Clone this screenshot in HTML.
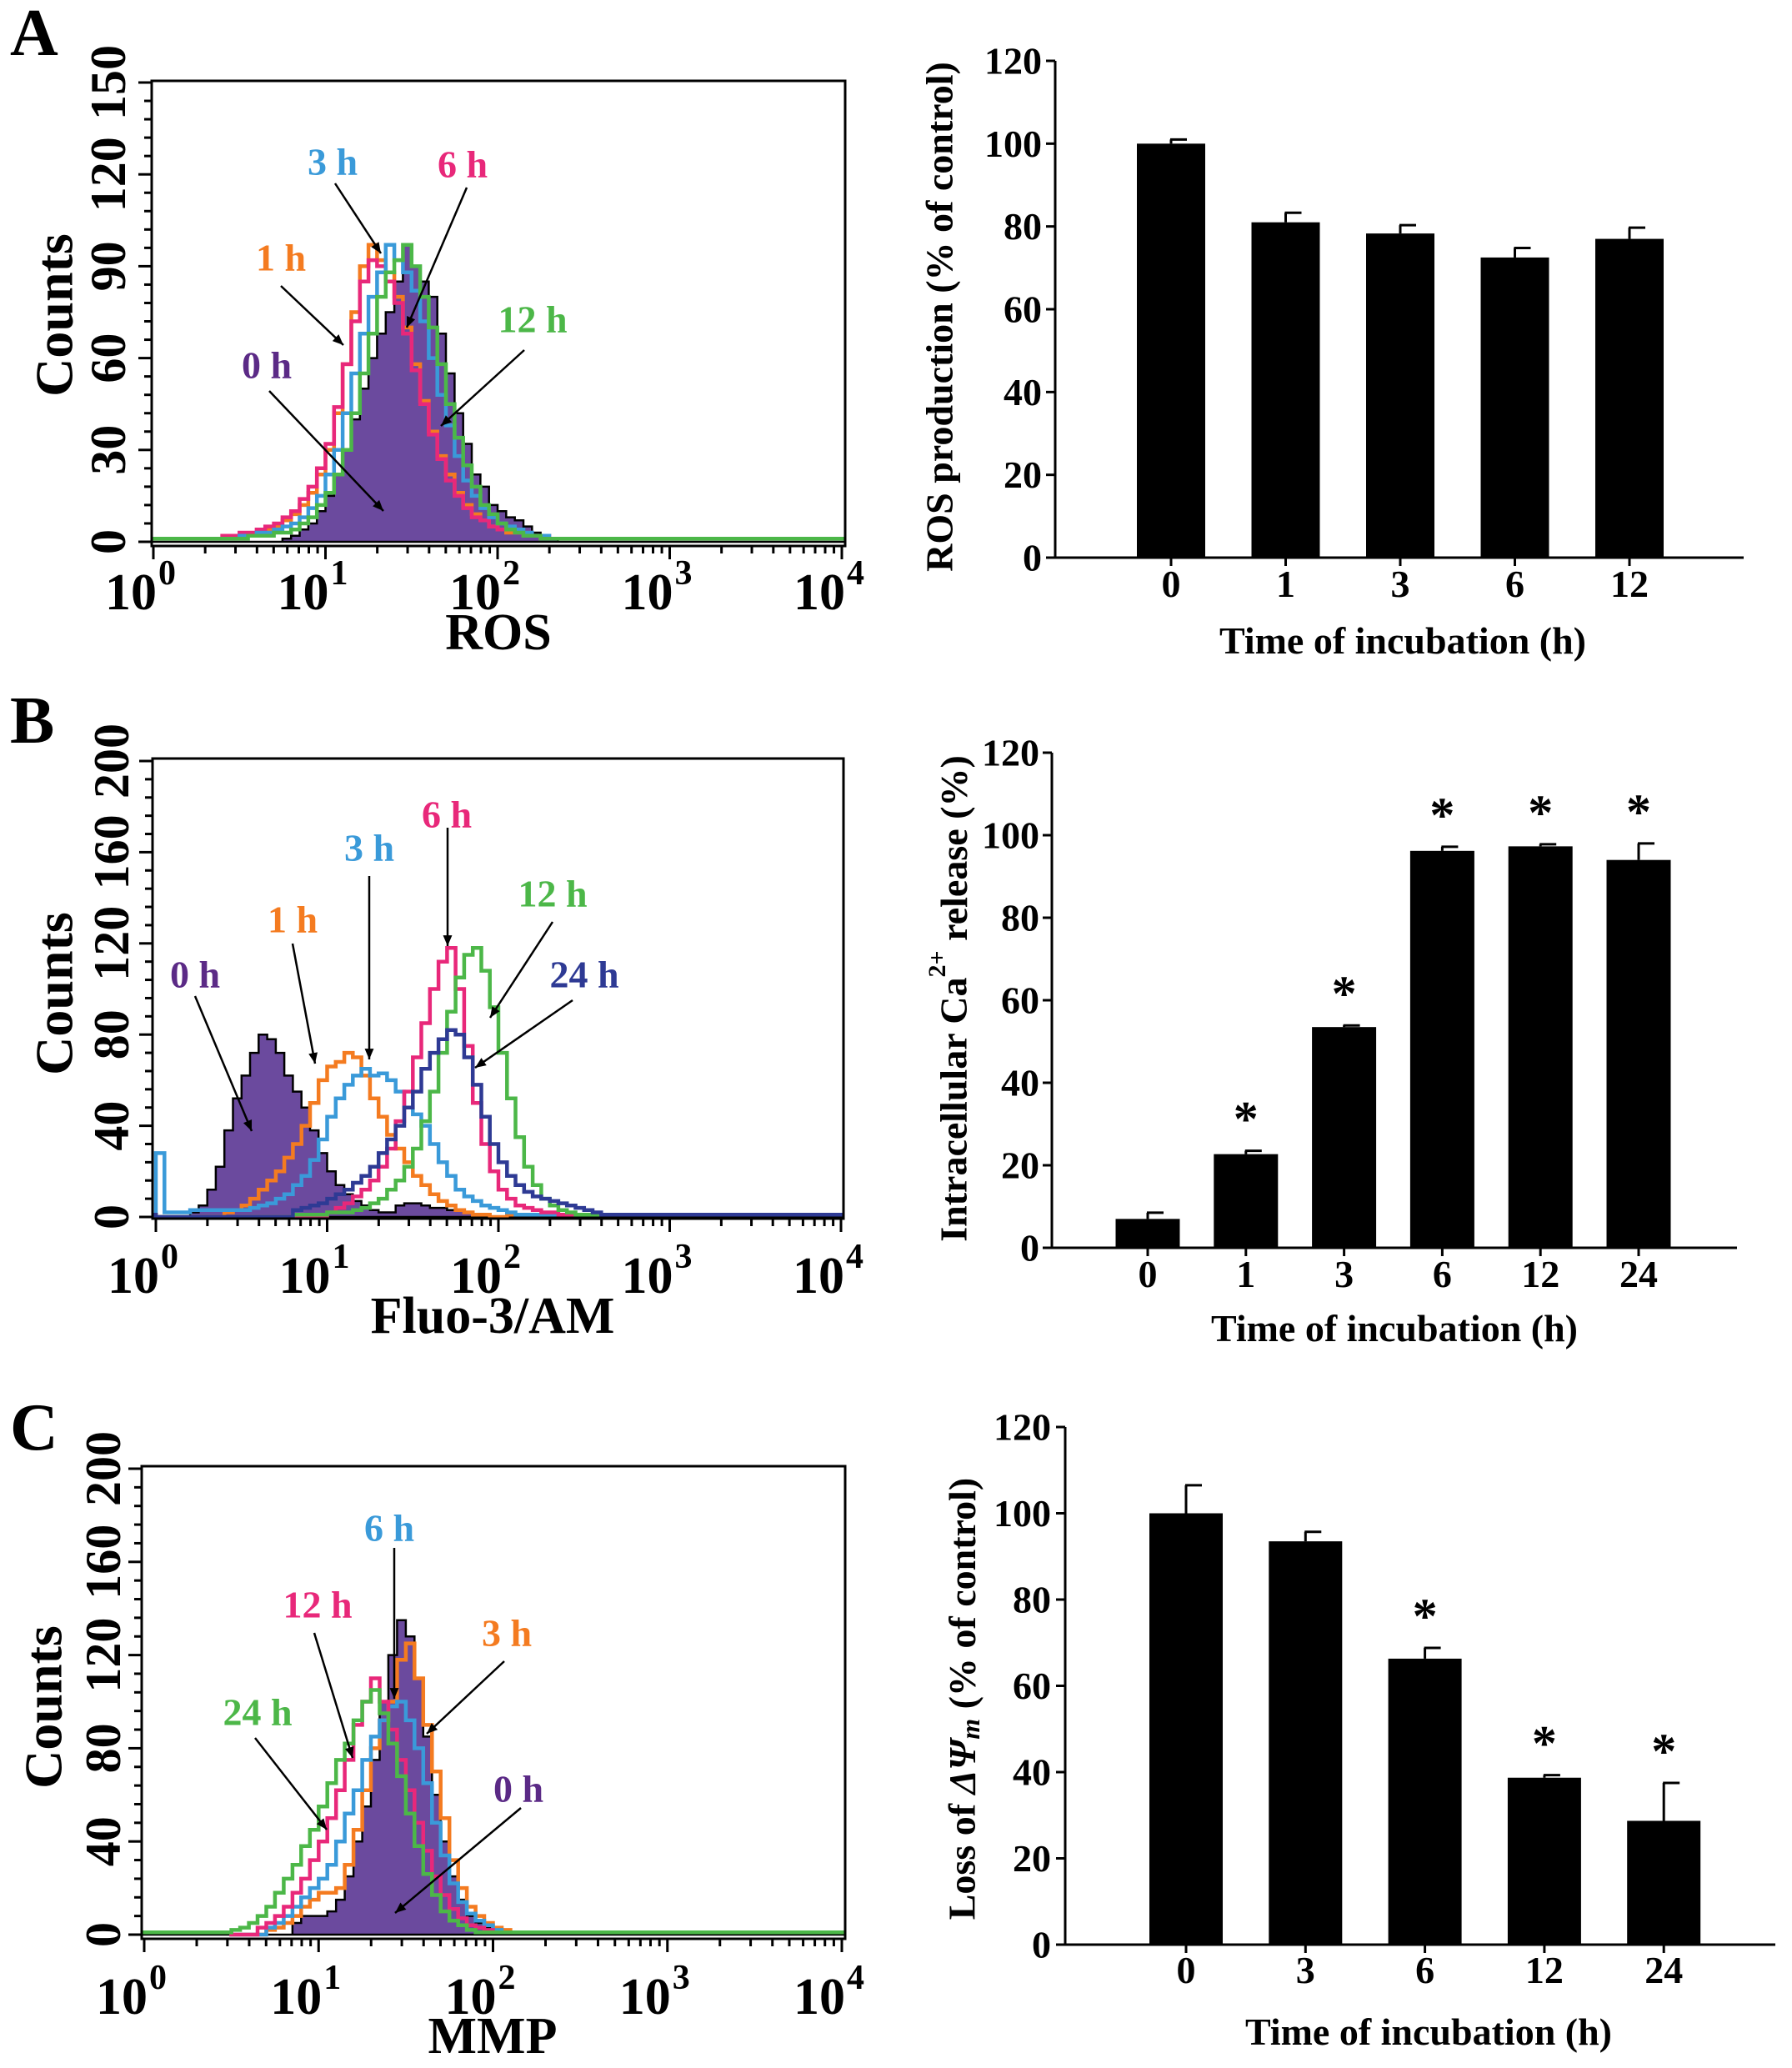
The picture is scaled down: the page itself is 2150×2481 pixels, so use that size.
<!DOCTYPE html>
<html><head><meta charset="utf-8"><style>
html,body{margin:0;padding:0;background:#fff}
svg{display:block;font-family:"Liberation Serif",serif;font-weight:bold}
</style></head><body>
<svg id="fig" xmlns="http://www.w3.org/2000/svg" width="2150" height="2481" viewBox="0 0 2150 2481"></svg>
<script>
// ---------- Panel A histogram data (log10 bins, step 0.05) ----------
const aStart = 0.40;
const aPurple = [0,0,0,0,0,0,0,1,2,4,6,10,15,22,30,40,50,60,68,75,85,97,90,85,80,68,55,42,32,22,18,12,10,8,7,5,3,2,1,0,0];
const aOrange = [1,1,2,2,3,4,5,7,9,12,16,22,30,42,58,75,90,97,92,88,80,70,58,46,36,28,22,16,12,9,7,5,4,3,3,2,2,1,1,1,1];
const aPink   = [2,2,3,3,4,5,6,8,10,14,18,24,32,44,58,72,85,92,90,85,78,68,56,45,35,27,20,15,11,8,7,5,4,4,3,3,2,2,1,1,1];
const aBlue   = [1,1,2,2,3,3,4,5,6,8,11,15,22,30,42,55,68,80,88,97,92,88,82,72,60,48,38,28,20,15,11,8,6,5,4,3,2,2,1,1,1];
const aGreen  = [1,1,1,2,2,2,3,3,4,6,8,12,16,22,30,42,55,68,80,88,92,97,90,80,70,58,45,34,25,18,12,9,6,4,3,2,2,1,1,1,1];
// ---------- Panel B histogram data ----------
const bStart = 0.0;
const bPurple = [0,0,0,0,2,5,12,22,38,52,62,72,80,78,72,62,55,48,38,28,20,14,10,7,5,3,2,2,5,6,6,5,4,4,3,3,2,1,1,0,0];
const bOrange = [0,0,0,0,0,0,0,0,2,3,5,8,12,16,20,26,32,40,50,60,66,68,72,70,62,52,44,36,30,24,18,14,10,7,5,3,2,1,1,0,0];
const bBlue   = [28,2,2,2,3,3,3,3,3,3,3,4,5,6,8,10,14,18,25,34,44,52,58,62,65,62,63,60,55,48,45,40,32,24,18,12,9,7,5,4,3,2,1,1,1];
const bPink   = [0,0,0,0,0,0,0,0,0,0,0,0,0,0,0,0,0,0,0,0,2,4,6,9,12,16,22,30,42,55,70,85,100,112,118,100,75,50,32,20,12,8,5,4,3,2,2,1,1];
const bGreen  = [0,0,0,0,0,0,0,0,0,0,0,0,0,0,0,0,1,1,1,1,2,2,2,3,4,6,8,12,16,22,30,42,55,72,90,105,115,118,108,92,72,52,35,22,14,8,5,3,2,1,1];
const bNavy   = [0,0,0,0,0,0,0,0,0,0,0,0,0,0,0,0,3,4,5,6,8,10,12,15,18,22,28,34,40,48,55,65,72,78,82,80,70,58,44,32,24,18,14,11,9,8,7,6,5,4,3,2,1];
// ---------- Panel C histogram data ----------
const cStart = 0.50;
const cPurple = [0,0,0,0,0,0,0,5,8,8,8,10,15,25,40,55,75,100,120,135,128,110,85,60,40,25,15,8,5,3,1];
const cOrange = [0,0,0,0,2,3,5,8,12,15,18,18,20,30,45,62,80,92,100,118,125,110,90,70,50,32,20,12,8,5,3,2,1,1,1];
const cBlue   = [0,0,0,0,3,5,8,12,16,20,24,30,40,52,62,75,85,92,98,100,92,80,65,48,34,22,14,9,6,4,2,1];
const cPink   = [0,0,0,3,5,8,12,18,24,32,40,50,62,75,90,100,110,100,88,75,62,48,36,25,17,11,7,4,3,2,1];
const cGreen  = [2,3,5,8,12,18,24,30,38,45,55,65,75,82,92,100,105,95,82,68,52,38,26,17,10,6,4,2,1];
// ---------- Bar chart data ----------
const aCats = ["0","1","3","6","12"];
const aVals = [100,81,78.3,72.5,77];
const aErrs = [1,2.3,2,2.3,2.7];
const aStars = [false,false,false,false,false];
const bCats = ["0","1","3","6","12","24"];
const bVals = [7,22.7,53.5,96.2,97.3,94];
const bErrs = [1.5,0.8,0.4,1,0.5,4];
const bStars = [false,true,true,true,true,true];
const cCats = ["0","3","6","12","24"];
const cVals = [100,93.5,66.3,38.7,28.7];
const cErrs = [6.5,2.2,2.5,0.6,8.8];
const cStars = [false,false,true,true,true];
const barTicks = [0,20,40,60,80,100,120];
const aHistTicks = [0,30,60,90,120,150];
const bHistTicks = [0,40,80,120,160,200];

const NS="http://www.w3.org/2000/svg";
const svg=document.getElementById('fig');
function mk(tag,attrs,parent){const e=document.createElementNS(NS,tag);for(const k in attrs)e.setAttribute(k,attrs[k]);(parent||svg).appendChild(e);return e;}
function txt(s,attrs,parent){const e=mk('text',attrs,parent);e.textContent=s;return e;}

const COL={purple:'#5b2a86',orange:'#f47b20',pink:'#e8287a',blue:'#3a9ad9',green:'#4cb748',navy:'#2e3a94',fill:'#6b4a9e'};

function histogram(cfg){
  const g=mk('g',{});
  
  
  const xs=l=>cfg.x0+(l/4)*(cfg.x4-cfg.x0);
  const ys=v=>cfg.y0-(v/cfg.ymax)*(cfg.y0-cfg.ytop);
  cfg.series.forEach(s=>{
    const pts=[];
    pts.push([cfg.fl,ys(s.fill?0:1)]);
    pts.push([xs(s.start),ys(s.fill?0:1)]);
    s.vals.forEach((v,i)=>{
      const l0=s.start+i*0.05,l1=l0+0.05;
      pts.push([xs(l0),ys(v)]);pts.push([xs(l1),ys(v)]);
    });
    const endL=s.start+s.vals.length*0.05;
    pts.push([xs(endL),ys(s.fill?0:1)]);
    pts.push([cfg.fr,ys(s.fill?0:1)]);
    const d='M'+pts.map(p=>p[0].toFixed(1)+','+p[1].toFixed(1)).join('L');
    const p=mk('path',{d:s.fill?d+'Z':d,fill:s.fill?COL.fill:'none',stroke:s.fill?'#000':s.color,'stroke-width':s.fill?2.5:4.5,'stroke-linejoin':'miter'},g);
    
    
  });
  const fr=mk('rect',{x:cfg.fl,y:cfg.ft,width:cfg.fr-cfg.fl,height:cfg.fb-cfg.ft,fill:'none',stroke:'#000','stroke-width':3},g);
  
  
  const step=cfg.ymax/25;
  for(let v=0;v<=cfg.ymax+0.01;v+=step){
    const major=cfg.ticks.some(t=>Math.abs(t-v)<0.01);
    mk('line',{x1:cfg.fl-(major?16:9),x2:cfg.fl,y1:ys(v),y2:ys(v),stroke:'#000','stroke-width':3},g);
  }
  cfg.ticks.forEach(t=>{
    const y=ys(t);
    const e=txt(String(t),{x:cfg.tlx,y:y,'font-size':60,'text-anchor':'middle','dominant-baseline':'central',transform:`rotate(-90 ${cfg.tlx} ${y})`},g);
    
    
  });
  for(let d=0;d<4;d++){for(let m=1;m<=9;m++){const x=xs(d+Math.log10(m));mk('line',{x1:x,x2:x,y1:cfg.fb,y2:cfg.fb+(m===1?16:9),stroke:'#000','stroke-width':3},g);}}
  mk('line',{x1:xs(4),x2:xs(4),y1:cfg.fb,y2:cfg.fb+16,stroke:'#000','stroke-width':3},g);
  for(let d=0;d<=4;d++){
    const x=xs(d);
    const e=txt('10',{x:x+4,y:cfg.tly,'font-size':62,'text-anchor':'end'},g);
    
    
    const s=txt(String(d),{x:x+6,y:cfg.tly-30,'font-size':42,'text-anchor':'start'},g);
    
    
  }
  const xt=txt(cfg.xtitle,{x:cfg.xtx,y:cfg.xty,'font-size':62,'text-anchor':'middle'},g);
  
  
  const yt=txt('Counts',{x:cfg.ytx,y:cfg.yty,'font-size':64,'text-anchor':'middle','dominant-baseline':'central',transform:`rotate(-90 ${cfg.ytx} ${cfg.yty})`},g);
  
  
  const pl=txt(cfg.letter,{x:cfg.lx,y:cfg.ly,'font-size':80},g);
  
  
  cfg.labels.forEach(a=>{
    const t=txt(a.t,{x:a.x,y:a.y,'font-size':46,fill:a.c,'text-anchor':'middle','dominant-baseline':'central'},g);
    
    
    const ang=Math.atan2(a.y2-a.y1,a.x2-a.x1);
    mk('line',{x1:a.x1,y1:a.y1,x2:a.x2,y2:a.y2,stroke:'#000','stroke-width':2.5},g);
    const L=14,W=0.4;
    mk('polygon',{points:`${a.x2},${a.y2} ${a.x2-L*Math.cos(ang-W)},${a.y2-L*Math.sin(ang-W)} ${a.x2-L*Math.cos(ang+W)},${a.y2-L*Math.sin(ang+W)}`,fill:'#000'},g);
  });
}

function barchart(cfg){
  const g=mk('g',{});
  
  
  const ys=v=>cfg.y0-(v/120)*(cfg.y0-cfg.y120);
  mk('line',{x1:cfg.ax,x2:cfg.ax,y1:cfg.y120,y2:cfg.y0,stroke:'#000','stroke-width':3},g);
  mk('line',{x1:cfg.ax,x2:cfg.axEnd,y1:cfg.y0,y2:cfg.y0,stroke:'#000','stroke-width':3},g);
  barTicks.forEach(t=>{
    mk('line',{x1:cfg.ax-11,x2:cfg.ax,y1:ys(t),y2:ys(t),stroke:'#000','stroke-width':3},g);
    const e=txt(String(t),{x:cfg.tlr,y:ys(t),'font-size':46,'text-anchor':'end','dominant-baseline':'central'},g);
    
    
  });
  cfg.cats.forEach((c,i)=>{
    const cx=cfg.c0+i*cfg.dx;
    const top=ys(cfg.vals[i]), et=ys(cfg.vals[i]+cfg.errs[i]);
    const r=mk('rect',{x:cx-cfg.bw/2,y:top,width:cfg.bw,height:cfg.y0-top,fill:'#000'},g);
    
    
    mk('line',{x1:cx,x2:cx,y1:top,y2:et,stroke:'#000','stroke-width':3},g);
    mk('line',{x1:cx-1,x2:cx+19,y1:et,y2:et,stroke:'#000','stroke-width':3},g);
    mk('line',{x1:cx,x2:cx,y1:cfg.y0,y2:cfg.y0+10,stroke:'#000','stroke-width':3},g);
    const l=txt(c,{x:cx,y:cfg.tly,'font-size':46,'text-anchor':'middle'},g);
    
    
    if(cfg.stars[i]){
      const s=txt('*',{x:cx,y:et-38,'font-size':60,'text-anchor':'middle','dominant-baseline':'central'},g);
      
      
    }
  });
  const xt=txt('',{x:cfg.xtx,y:cfg.xty,'font-size':46,'text-anchor':'middle'},g);
  xt.textContent=cfg.xtitle;
  
  
  const yt=mk('text',{x:cfg.ytx,y:cfg.yty,'font-size':46,'text-anchor':'middle','dominant-baseline':'central',transform:`rotate(-90 ${cfg.ytx} ${cfg.yty})`},g);
  yt.innerHTML=cfg.ytitle;
  
  
}

histogram({name:'ros-histogram',fl:182,fr:1014,ft:97,fb:655,x0:184,x4:1010,y0:650,ytop:99,ymax:150,ticks:aHistTicks,tlx:130,tly:731,
  xtitle:'ROS',xtx:598,xty:779,ytx:65,yty:378,letter:'A',lx:12,ly:66,
  series:[{name:'series-0h',start:aStart,vals:aPurple,fill:true},{name:'series-1h',start:aStart,vals:aOrange,color:COL.orange},
    {name:'series-6h',start:aStart,vals:aPink,color:COL.pink},{name:'series-3h',start:aStart,vals:aBlue,color:COL.blue},{name:'series-12h',start:aStart,vals:aGreen,color:COL.green}],
  labels:[{t:'3 h',c:COL.blue,x:399,y:194,x1:402,y1:220,x2:457,y2:304},{t:'6 h',c:COL.pink,x:555,y:197,x1:560,y1:225,x2:488,y2:393},
    {t:'1 h',c:COL.orange,x:337,y:309,x1:337,y1:343,x2:412,y2:414},{t:'12 h',c:COL.green,x:639,y:383,x1:629,y1:420,x2:529,y2:511},
    {t:'0 h',c:COL.purple,x:320,y:438,x1:323,y1:469,x2:460,y2:613}]});
histogram({name:'fluo3-histogram',fl:183,fr:1012,ft:910,fb:1462,x0:187,x4:1009,y0:1460,ytop:913,ymax:200,ticks:bHistTicks,tlx:134,tly:1551,
  xtitle:'Fluo-3/AM',xtx:591,xty:1599,ytx:65,yty:1192,letter:'B',lx:12,ly:891,
  series:[{name:'series-0h',start:bStart,vals:bPurple,fill:true},{name:'series-1h',start:bStart,vals:bOrange,color:COL.orange},
    {name:'series-3h',start:bStart,vals:bBlue,color:COL.blue},{name:'series-6h',start:bStart,vals:bPink,color:COL.pink},
    {name:'series-12h',start:bStart,vals:bGreen,color:COL.green},{name:'series-24h',start:bStart,vals:bNavy,color:COL.navy}],
  labels:[{t:'0 h',c:COL.purple,x:234,y:1169,x1:234,y1:1195,x2:302,y2:1357},{t:'1 h',c:COL.orange,x:351,y:1103,x1:351,y1:1132,x2:378,y2:1276},
    {t:'3 h',c:COL.blue,x:443,y:1017,x1:443,y1:1051,x2:443,y2:1271},{t:'6 h',c:COL.pink,x:536,y:977,x1:537,y1:993,x2:537,y2:1135},
    {t:'12 h',c:COL.green,x:663,y:1072,x1:663,y1:1106,x2:588,y2:1221},{t:'24 h',c:COL.navy,x:701,y:1169,x1:687,y1:1200,x2:570,y2:1281}]});
histogram({name:'mmp-histogram',fl:170,fr:1014,ft:1759,fb:2326,x0:173,x4:1010,y0:2321,ytop:1762,ymax:200,ticks:bHistTicks,tlx:124,tly:2416,
  xtitle:'MMP',xtx:591,xty:2463,ytx:52,yty:2048,letter:'C',lx:12,ly:1739,
  series:[{name:'series-0h',start:cStart,vals:cPurple,fill:true},{name:'series-3h',start:cStart,vals:cOrange,color:COL.orange},
    {name:'series-6h',start:cStart,vals:cBlue,color:COL.blue},{name:'series-12h',start:cStart,vals:cPink,color:COL.pink},{name:'series-24h',start:cStart,vals:cGreen,color:COL.green}],
  labels:[{t:'6 h',c:COL.blue,x:467,y:1833,x1:473,y1:1857,x2:473,y2:2038},{t:'12 h',c:COL.pink,x:381,y:1925,x1:377,y1:1959,x2:423,y2:2109},
    {t:'3 h',c:COL.orange,x:608,y:1959,x1:605,y1:1993,x2:512,y2:2080},{t:'24 h',c:COL.green,x:309,y:2054,x1:306,y1:2085,x2:392,y2:2195},
    {t:'0 h',c:COL.purple,x:622,y:2146,x1:625,y1:2169,x2:474,y2:2295}]});

barchart({name:'ros-bar-chart',ax:1266,axEnd:2092,y0:669,y120:73,tlr:1250,c0:1405,dx:137.5,bw:82,tly:716,cats:aCats,vals:aVals,errs:aErrs,stars:aStars,
  xtitle:'Time of  incubation (h)',xtx:1683,xty:784,ytx:1127,yty:380,ytitle:'ROS production (% of control)'});
barchart({name:'calcium-bar-chart',ax:1262,axEnd:2084,y0:1497,y120:903,tlr:1247,c0:1377,dx:117.8,bw:77,tly:1544,cats:bCats,vals:bVals,errs:bErrs,stars:bStars,
  xtitle:'Time of incubation (h)',xtx:1673,xty:1609,ytx:1144,yty:1198,ytitle:'Intracellular Ca<tspan dy="-20" font-size="30">2+</tspan><tspan dy="20"> release (%)</tspan>'});
barchart({name:'mmp-bar-chart',ax:1278,axEnd:2130,y0:2333,y120:1712,tlr:1261,c0:1423,dx:143.3,bw:88,tly:2379,cats:cCats,vals:cVals,errs:cErrs,stars:cStars,
  xtitle:'Time of  incubation (h)',xtx:1714,xty:2453,ytx:1154,yty:2038,ytitle:'Loss of <tspan font-style="italic">ΔΨ</tspan><tspan font-style="italic" font-size="32" dy="10">m</tspan><tspan dy="-10"> (% of control)</tspan>'});
</script>
</body></html>
